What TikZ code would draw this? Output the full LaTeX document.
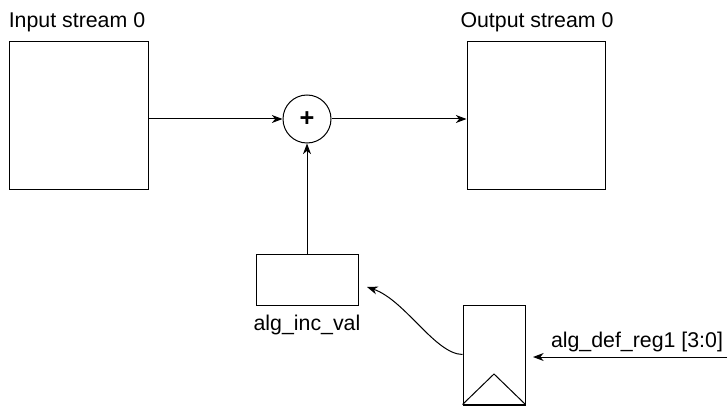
\documentclass[tikz,border=0pt]{standalone}
\usepackage{fontspec}
\setmainfont{Liberation Sans}
\usetikzlibrary{arrows.meta}
\begin{document}
\begin{tikzpicture}[x=0.75pt,y=-0.75pt,
  box/.style={draw,line width=0.75pt,inner sep=0pt,fill=white},
  lbl/.style={inner sep=0pt,font=\fontsize{16}{19}\selectfont},
  conn/.style={line width=0.75pt,-{Stealth[length=8pt,width=6pt,inset=2.5pt]}}]
\useasboundingbox (0,0) rectangle (728,406);
\node[box,minimum width=104.25pt,minimum height=111pt] (in) at (78.5,116) {};
\node[box,minimum width=103.5pt,minimum height=111pt] (out) at (536,116) {};
\node[box,circle,minimum size=36pt,font=\fontsize{19}{22}\selectfont\bfseries] (sum) at (307,119) {+};
\node[box,minimum width=76.5pt,minimum height=38.25pt] (inc) at (307,279.5) {};
\node[box,minimum width=46.5pt,minimum height=74.25pt] (reg) at (494,354.5) {};
\coordinate (tri) at (494,374);
\draw[line width=0.75pt] (reg.south west) -- (tri) -- (reg.south east);
\draw[line width=1.5pt] (reg.south west) -- (reg.south east);
\node[lbl] (lin) at (77,22) {Input stream 0};
\node[lbl] (lout) at (537,22) {Output stream 0};
\node[lbl] (linc) at (307,325) {alg\_inc\_val};
\node[lbl] (lreg) at (637,342) {alg\_def\_reg1 [3:0]};
\coordinate (src) at (727,357);
\coordinate (regin) at (533,357);
\coordinate (incin) at (367,287);
\draw[conn] (in.east |- sum) -- (sum.west);
\draw[conn] (sum.east) -- (out.west |- sum);
\draw[conn] (inc.north) -- (sum.south);
\draw[conn] (src) -- (regin);
\draw[conn] (reg.west) .. controls (435,354) and (405,300) .. (incin);
\end{tikzpicture}
\end{document}
